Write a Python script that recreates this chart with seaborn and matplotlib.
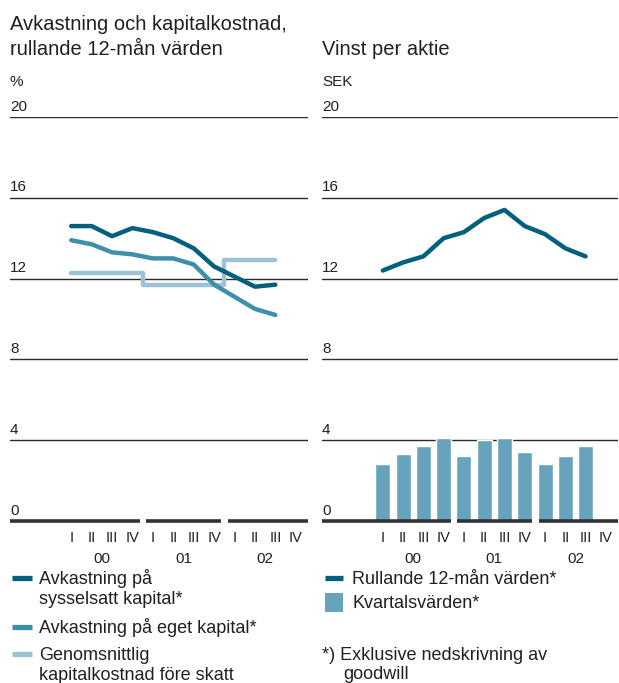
import numpy as np
import pandas as pd
import matplotlib
matplotlib.use('Agg')
import matplotlib.pyplot as plt
import matplotlib.transforms as mtransforms
from matplotlib.lines import Line2D
from matplotlib.patches import Rectangle
import seaborn as sns

sns.set_style('white')
plt.rcParams['font.family'] = ['Liberation Sans', 'DejaVu Sans']

# quarters I-00 .. III-02
quarters = ['I', 'II', 'III', 'IV'] * 3
years = ['00', '01', '02']
q_idx = list(range(11))

roce = [14.6, 14.6, 14.1, 14.5, 14.3, 14.0, 13.5, 12.6, 12.1, 11.6, 11.7]
roe = [13.9, 13.7, 13.3, 13.2, 13.0, 13.0, 12.7, 11.7, 11.1, 10.5, 10.2]
cost_of_capital = [12.3, 12.3, 12.3, 12.3, 11.7, 11.7, 11.7, 11.7, 12.9, 12.9, 12.9]

eps_rolling = [12.4, 12.8, 13.1, 14.0, 14.3, 15.0, 15.4, 14.6, 14.2, 13.5, 13.1]
eps_quarter = [2.8, 3.3, 3.7, 4.1, 3.2, 4.0, 4.1, 3.4, 2.8, 3.2, 3.7]

y_ticks = [0, 4, 8, 12, 16, 20]

dark = '#00607e'
mid = '#3f8fab'
light = '#9cc3d5'
bar_col = '#68a3bd'
ink = '#231f20'

df_left = pd.DataFrame({'q': q_idx, 'roce': roce, 'roe': roe, 'coc': cost_of_capital})
df_right = pd.DataFrame({'q': q_idx, 'rolling': eps_rolling, 'quarter': eps_quarter})

W, H = 619, 683
fig = plt.figure(figsize=(W / 100, H / 100), dpi=100)
ax1 = fig.add_axes([10 / W, 162 / H, 298 / W, 404 / H])
ax2 = fig.add_axes([322 / W, 162 / H, 296 / W, 404 / H])


def px(x, y):
    return x / W, 1 - y / H


def style_axis(ax, unit):
    ax.set_xlim(-3, 11.6)
    ax.set_ylim(0, 20)
    for s in ax.spines.values():
        s.set_visible(False)
    ax.set_yticks([])
    ax.set_xlabel('')
    ax.set_ylabel('')
    trans = mtransforms.blended_transform_factory(ax.transAxes, ax.transData)
    for v in y_ticks[1:]:
        ax.axhline(v, color='#2a2a2a', lw=1.0, zorder=1)
    for v in y_ticks:
        ax.annotate(str(v), xy=(0, v), xycoords=trans, xytext=(0, 2.5),
                    textcoords='offset points', ha='left', va='bottom',
                    fontsize=11, color=ink)
    ax.annotate(unit, xy=(0, 20), xycoords=trans, xytext=(0, 20),
                textcoords='offset points', ha='left', va='bottom',
                fontsize=11, color=ink)
    # baseline split by year
    segs = [(-3, 3.35), (3.68, 7.35), (7.7, 11.6)]
    for a, b in segs:
        ax.plot([a, b], [0, 0], color='#333333', lw=2.6, solid_capstyle='butt',
                clip_on=False, zorder=5)
    ax.set_xticks(range(12))
    ax.set_xticklabels(quarters, fontsize=10.5, color=ink)
    ax.tick_params(axis='x', length=0, pad=7)
    tr = mtransforms.blended_transform_factory(ax.transData, ax.transAxes)
    for i, y in enumerate(years):
        ax.text(1.5 + 4 * i, -0.076, y, transform=tr,
                ha='center', va='top', fontsize=11, color=ink)


sns.lineplot(data=df_left, x='q', y='coc', ax=ax1, color=light, lw=3.2,
             drawstyle='steps-mid', zorder=3)
sns.lineplot(data=df_left, x='q', y='roe', ax=ax1, color=mid, lw=3.2, zorder=3)
sns.lineplot(data=df_left, x='q', y='roce', ax=ax1, color=dark, lw=3.2, zorder=4)
style_axis(ax1, '%')

sns.barplot(data=df_right, x='q', y='quarter', ax=ax2, color=bar_col,
            native_scale=True, width=0.74, saturation=1, zorder=2)
sns.lineplot(data=df_right, x='q', y='rolling', ax=ax2, color=dark, lw=3.2, zorder=4)
style_axis(ax2, 'SEK')

# titles
fig.text(*px(10, 30), 'Avkastning och kapitalkostnad,', ha='left', va='baseline',
         fontsize=14.5, color=ink)
fig.text(*px(10, 55), 'rullande 12-mån värden', ha='left', va='baseline',
         fontsize=14.5, color=ink)
fig.text(*px(322, 55), 'Vinst per aktie', ha='left', va='baseline',
         fontsize=14.5, color=ink)


def swatch_line(x0, x1, y, color):
    fig.add_artist(Line2D([x0 / W, x1 / W], [1 - y / H, 1 - y / H], color=color,
                          lw=3.8, solid_capstyle='butt', transform=fig.transFigure))


def label(x, y, s):
    fig.text(*px(x, y), s, ha='left', va='baseline', fontsize=13, color=ink)


# left legend
swatch_line(12, 32, 577.5, dark)
label(39, 584, 'Avkastning på')
label(39, 604, 'sysselsatt kapital*')
swatch_line(12, 32, 626.5, mid)
label(39, 633, 'Avkastning på eget kapital*')
swatch_line(12, 32, 653.5, light)
label(39, 660, 'Genomsnittlig')
label(39, 680, 'kapitalkostnad före skatt')

# right legend
swatch_line(325, 343, 577.5, dark)
label(352, 584, 'Rullande 12-mån värden*')
fig.add_artist(Rectangle(px(325, 612), 18 / W, 19 / H, facecolor=bar_col,
                         edgecolor='none', transform=fig.transFigure))
label(352, 608, 'Kvartalsvärden*')

label(322, 660, '*) Exklusive nedskrivning av')
label(343, 679, 'goodwill')

fig.savefig('out.png', dpi=100)
